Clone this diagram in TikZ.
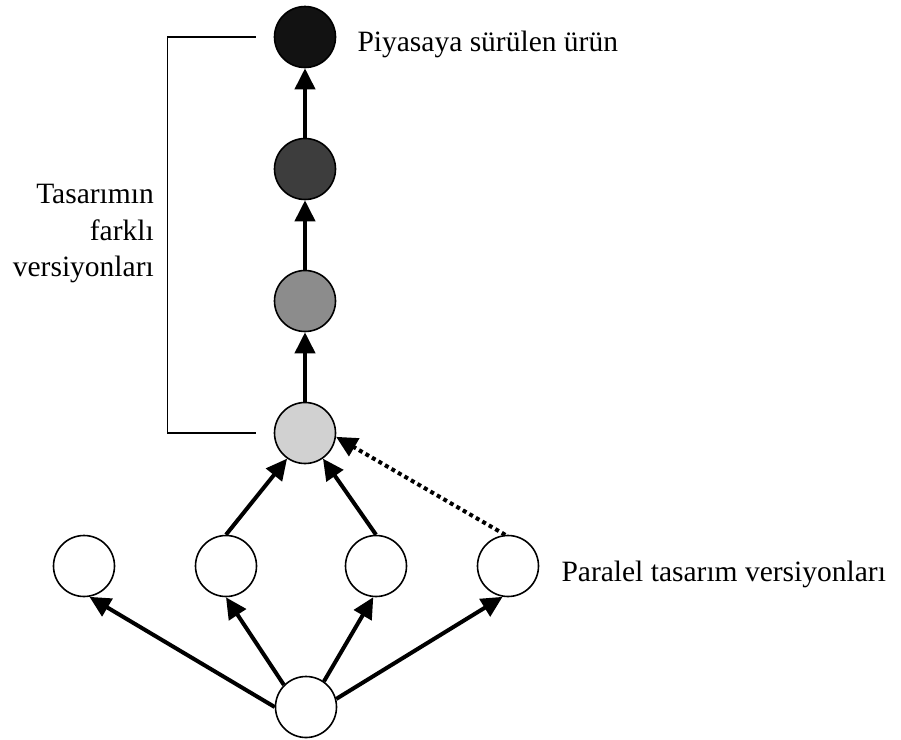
\documentclass[tikz,border=0pt]{standalone}
\usepackage{fontspec}
\setmainfont{Liberation Serif}
\usetikzlibrary{arrows.meta,positioning}

\begin{document}
\begin{tikzpicture}[x=1pt,y=-1pt,
  node distance=132pt,
  conn/.style={draw,line width=4pt,-{Triangle[length=21pt,width=20pt]}},
  main node/.style={circle,draw,line width=1.6pt,minimum size=61pt,inner sep=0pt},
  label text/.style={font=\fontsize{29.5}{36.5}\selectfont,inner sep=0pt},
  dot line/.style={dash pattern=on 4pt off 3.5pt}]
  \useasboundingbox (0,0) rectangle (901,739);
  \node[main node,fill=black!18] (1) at (305,433) {};
  \node[main node,fill=black!45] (2) [above of=1] {};
  \node[main node,fill=black!76] (3) [above of=2] {};
  \node[main node,fill=black!93] (4) [above of=3] {};
  \node[main node] (5) [below of=1,node distance=133pt,xshift=-221pt] {};
  \node[main node] (6) [below of=1,node distance=133pt,xshift=-79pt] {};
  \node[main node] (7) [below of=1,node distance=133pt,xshift=71pt] {};
  \node[main node] (8) [below of=1,node distance=133pt,xshift=203pt] {};
  \node[main node] (9) [below of=1,node distance=274pt,xshift=1pt] {};
  \draw[conn] (1) -- (2);
  \draw[conn] (2) -- (3);
  \draw[conn] (3) -- (4);
  \draw[conn] (6.north) -- (1.-125);
  \draw[conn] (7.north) -- (1.-55);
  \draw[conn,dot line] (8.95) -- (1.-7);
  \draw[conn] (9.west) -- (5.-80);
  \draw[conn] (9.135) -- (6.south);
  \draw[conn] (9.55) -- (7.-95);
  \draw[conn] (9.15) -- (8.-100);
  % labels
  \node[label text] (top label) [right=21pt of 4,yshift=-7pt] {Piyasaya sürülen ürün};
  \node[label text] (par label) [right=22pt of 8,yshift=-8pt] {Paralel tasarım versiyonları};
  \node[label text,align=right,anchor=east] (side label) at (154,234) {Tasarımın\\farklı\\versiyonları};
  % bracket
  \coordinate[left=18pt of 4] (bt);
  \coordinate[left=18pt of 1] (bb);
  \draw[line width=1.5pt] (bt) -- ++(-88,0) |- (bb);
\end{tikzpicture}
\end{document}
